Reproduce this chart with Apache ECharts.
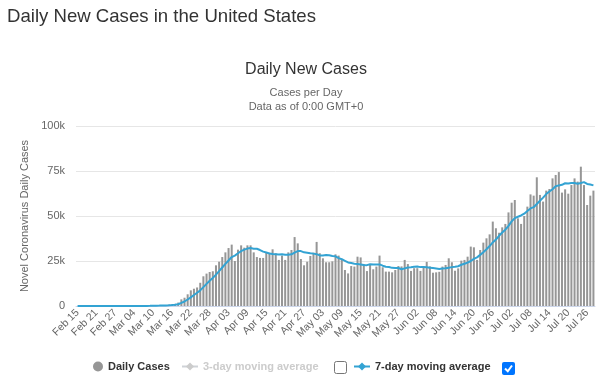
<!DOCTYPE html>
<html><head><meta charset="utf-8">
<script src="https://cdn.jsdelivr.net/npm/echarts@6/dist/echarts.min.js"></script>
<style>html,body{margin:0;padding:0;background:#fff}#c{width:600px;height:380px}</style>
</head><body><div id="c"></div>
<script>
const categories = [
 'Feb 15','Feb 16','Feb 17','Feb 18','Feb 19','Feb 20','Feb 21','Feb 22','Feb 23','Feb 24','Feb 25','Feb 26','Feb 27','Feb 28','Feb 29',
 'Mar 01','Mar 02','Mar 03','Mar 04','Mar 05','Mar 06','Mar 07','Mar 08','Mar 09','Mar 10','Mar 11','Mar 12','Mar 13','Mar 14','Mar 15','Mar 16','Mar 17','Mar 18','Mar 19','Mar 20','Mar 21','Mar 22','Mar 23','Mar 24','Mar 25','Mar 26','Mar 27','Mar 28','Mar 29','Mar 30','Mar 31',
 'Apr 01','Apr 02','Apr 03','Apr 04','Apr 05','Apr 06','Apr 07','Apr 08','Apr 09','Apr 10','Apr 11','Apr 12','Apr 13','Apr 14','Apr 15','Apr 16','Apr 17','Apr 18','Apr 19','Apr 20','Apr 21','Apr 22','Apr 23','Apr 24','Apr 25','Apr 26','Apr 27','Apr 28','Apr 29','Apr 30',
 'May 01','May 02','May 03','May 04','May 05','May 06','May 07','May 08','May 09','May 10','May 11','May 12','May 13','May 14','May 15','May 16','May 17','May 18','May 19','May 20','May 21','May 22','May 23','May 24','May 25','May 26','May 27','May 28','May 29','May 30','May 31',
 'Jun 01','Jun 02','Jun 03','Jun 04','Jun 05','Jun 06','Jun 07','Jun 08','Jun 09','Jun 10','Jun 11','Jun 12','Jun 13','Jun 14','Jun 15','Jun 16','Jun 17','Jun 18','Jun 19','Jun 20','Jun 21','Jun 22','Jun 23','Jun 24','Jun 25','Jun 26','Jun 27','Jun 28','Jun 29','Jun 30',
 'Jul 01','Jul 02','Jul 03','Jul 04','Jul 05','Jul 06','Jul 07','Jul 08','Jul 09','Jul 10','Jul 11','Jul 12','Jul 13','Jul 14','Jul 15','Jul 16','Jul 17','Jul 18','Jul 19','Jul 20','Jul 21','Jul 22','Jul 23','Jul 24','Jul 25','Jul 26','Jul 27','Jul 28'
];
const dailyCases = [
 0,0,0,0,0,0,1,0,0,18,0,6,1,2,8,
 7,23,20,31,68,45,140,116,65,376,322,382,516,548,772,900,1200,1900,3700,4600,6500,8700,9600,10300,12900,16500,18000,18900,19300,22600,24600,
 27200,29800,32200,34100,25000,31300,33700,32400,33700,33700,29800,27200,26700,26700,29800,29600,31500,29300,25600,28000,25600,29800,31100,38300,34800,26100,22600,24600,27800,29600,
 35600,29300,26500,24300,24300,24800,28700,28000,25600,20000,18100,22200,21900,27400,27000,23300,19400,22800,20400,21900,28000,21500,19100,19100,18700,20000,22200,22000,25600,23300,19500,
 21000,21000,19500,22000,24500,22000,18500,18700,19000,21900,22800,26500,24300,19600,20900,25200,25600,27400,33000,32600,25600,31100,35200,37600,39800,46900,43200,40700,43700,45600,
 52000,57400,58900,48700,45600,50000,55200,62000,61300,71500,61700,58000,64100,65000,70900,72800,74400,63000,64800,62400,67200,70900,69100,77400,67200,56100,61300,64100
];
const movingAvg7 = [
 0,0,0,0,0,0,0,0,0,3,3,4,4,4,5,
 4,7,9,12,20,26,46,63,70,120,160,210,270,320,420,550,700,950,1700,2500,3600,4800,6100,7400,8700,10500,12300,14000,15600,17400,19400,
 21400,23400,25300,27200,28000,29300,30500,31300,31900,32200,31800,31800,31100,30200,29700,29200,28900,28800,28600,28700,28500,28500,28700,29700,30500,30500,29800,29600,29300,29100,
 28800,28100,28100,28300,28200,27800,27600,26600,26000,25100,24200,23900,23500,23300,23100,22800,22700,23200,23000,23000,23100,22400,21800,21700,21200,21100,21100,20400,20900,21400,21500,
 21800,21900,21600,21600,21500,21300,21100,20800,20500,20800,21000,21300,21600,21800,22100,22900,23500,24100,25000,26200,27000,28400,29900,31500,33300,35300,36900,39000,40800,42400,
 44500,47000,48800,49600,50300,51300,52800,54200,54900,56700,58500,60200,62200,63600,64900,66500,67000,67300,68200,68000,68300,68300,67900,68300,68800,67800,67500,67000
];
const movingAvg3 = [];
const yTickLabels = ['0','25k','50k','75k','100k'];
const seriesNames = ['Daily Cases','3-day moving average','7-day moving average'];

const FONT = 'Liberation Sans, Arial, sans-serif';
const chart = echarts.init(document.getElementById('c'));
const legendText = {fontFamily: FONT, fontSize: 11, fontWeight: 'bold', color: '#333'};
chart.setOption({
  animation: false,
  backgroundColor: '#fff',
  textStyle: {fontFamily: FONT},
  grid: {left: 76, right: 5, top: 126, bottom: 74, containLabel: false},
  graphic: [
    {type: 'text', x: 7, y: 17, style: {text: 'Daily New Cases in the United States', fill: '#333', font: '18.6px ' + FONT, verticalAlign: 'middle'}},
    {type: 'text', x: 306, y: 70, style: {text: 'Daily New Cases', fill: '#333', font: '16px ' + FONT, align: 'center', verticalAlign: 'middle'}},
    {type: 'text', x: 306, y: 93, style: {text: 'Cases per Day', fill: '#666', font: '11px ' + FONT, align: 'center', verticalAlign: 'middle'}},
    {type: 'text', x: 306, y: 107, style: {text: 'Data as of 0:00 GMT+0', fill: '#666', font: '11px ' + FONT, align: 'center', verticalAlign: 'middle'}},
    {type: 'rect', shape: {x: 334.5, y: 361.5, width: 12, height: 12, r: 2}, style: {fill: '#fff', stroke: '#767676', lineWidth: 1}},
    {type: 'rect', shape: {x: 502, y: 362, width: 13, height: 13, r: 2}, style: {fill: '#0075ff'}},
    {type: 'polyline', shape: {points: [[505, 368.5], [507.8, 371.3], [512, 365.5]]}, style: {stroke: '#fff', lineWidth: 2, fill: null}}
  ],
  legend: [
    {data: [{name: seriesNames[0], icon: 'circle'}], left: 93, top: 361, itemWidth: 10, itemHeight: 10, itemGap: 0, padding: 0, textStyle: legendText},
    {data: [seriesNames[1]], left: 181, top: 361, itemWidth: 16, itemHeight: 10, padding: 0, inactiveColor: '#ccc', textStyle: legendText,
     selected: {'3-day moving average': false}},
    {data: [seriesNames[2]], left: 353, top: 361, itemWidth: 16, itemHeight: 10, padding: 0, textStyle: legendText}
  ],
  xAxis: {
    type: 'category', data: categories, boundaryGap: true,
    axisLine: {lineStyle: {color: '#ccd6eb'}},
    axisTick: {show: false},
    axisLabel: {interval: 5, rotate: 45, color: '#666', fontSize: 10.5, margin: 5}
  },
  yAxis: {
    type: 'value', min: 0, max: 100000, interval: 25000,
    name: 'Novel Coronavirus Daily Cases', nameLocation: 'middle', nameGap: 41,
    nameTextStyle: {color: '#666', fontSize: 11},
    axisLine: {show: false}, axisTick: {show: false},
    splitLine: {lineStyle: {color: '#e6e6e6'}},
    axisLabel: {color: '#666', fontSize: 11, margin: 11, formatter: v => yTickLabels[Math.round(v / 25000)]}
  },
  series: [
    {name: seriesNames[0], type: 'bar', data: dailyCases, barCategoryGap: '36%', itemStyle: {color: '#969696'}},
    {name: seriesNames[1], type: 'line', data: movingAvg3, symbol: 'diamond', symbolSize: 7, itemStyle: {color: '#ccc'}},
    {name: seriesNames[2], type: 'line', data: movingAvg7, symbol: 'diamond', symbolSize: 7, showSymbol: false,
     itemStyle: {color: '#33a3d3'}, lineStyle: {width: 2, color: '#33a3d3'}, z: 3}
  ]
});
</script>
</body></html>
